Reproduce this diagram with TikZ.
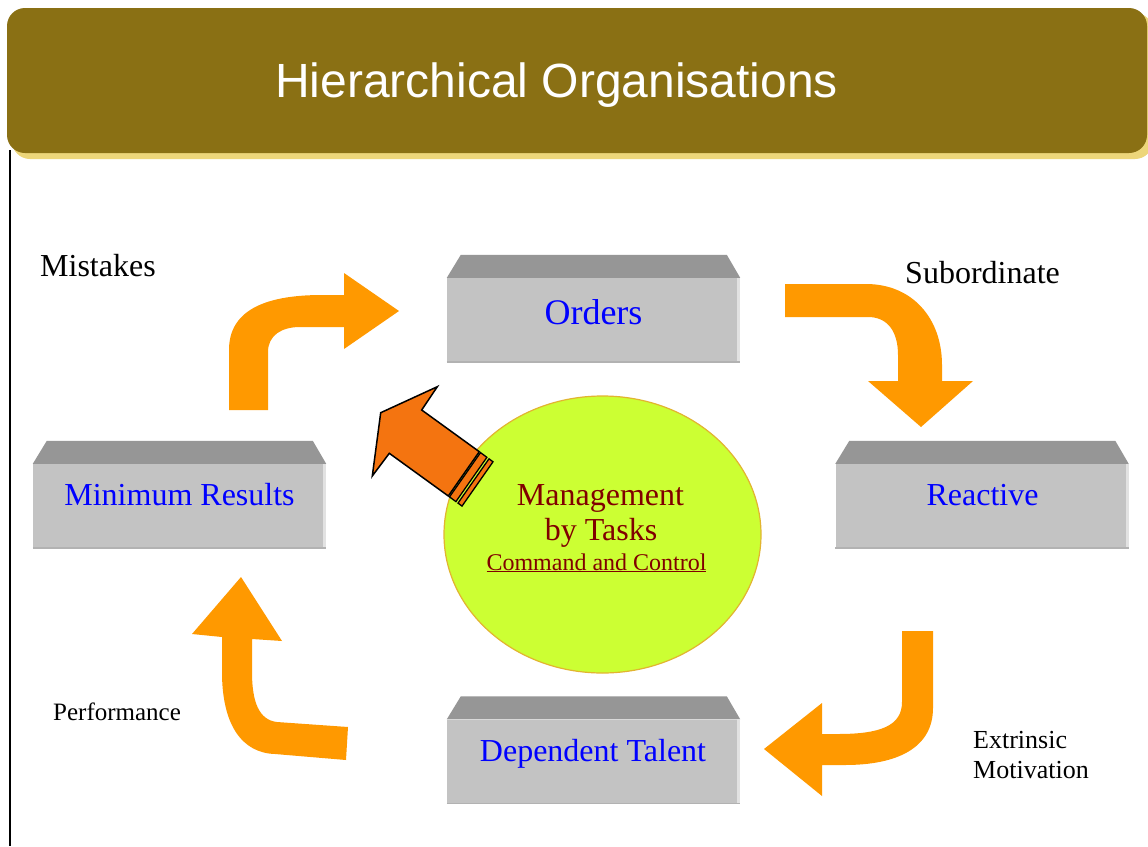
\documentclass[tikz,border=0pt]{standalone}
\usepackage{fontspec}
\setmainfont{Liberation Serif}
\newfontfamily\headfont{Liberation Sans}
\usetikzlibrary{shapes.geometric}

\definecolor{bannerbrown}{RGB}{138,112,20}
\definecolor{bannershadow}{RGB}{237,214,122}
\definecolor{facegray}{RGB}{195,195,195}
\definecolor{topgray}{RGB}{150,150,150}
\definecolor{edgelight}{RGB}{226,226,226}
\definecolor{bottomgray}{RGB}{178,178,178}
\definecolor{bendorange}{RGB}{255,153,0}
\definecolor{pushorange}{RGB}{244,116,16}
\definecolor{hublime}{RGB}{204,255,51}
\definecolor{hubrim}{RGB}{226,180,48}
\definecolor{labelblue}{RGB}{0,0,255}
\definecolor{hubtext}{RGB}{128,0,0}

\tikzset{
  face/.style={fill=facegray, minimum width=293pt, minimum height=84pt, inner sep=0pt},
  boxlabel/.style={anchor=base, inner sep=0pt, text=labelblue, font=\fontsize{32}{38}\selectfont},
  note/.style={anchor=base west, inner sep=0pt, text=black, font=\fontsize{32}{38}\selectfont},
  smallnote/.style={anchor=base west, inner sep=0pt, text=black, font=\fontsize{25}{30}\selectfont},
  cyclearrow/.style={fill=bendorange},
  push/.style={fill=pushorange, draw=black, line width=1.5pt, line join=miter},
  hubline/.style={anchor=base, inner sep=0pt, text=hubtext},
}

% a grey slab: front face node plus a darker top face
\newcommand\drawslab[2]{%
  \node[face] (#1) at (#2) {};
  \fill[topgray] (#1.north west) -- ++(14,-23) -- ++(266,0) -- (#1.north east) -- cycle;
  \fill[edgelight] ([xshift=-3pt]#1.north east) rectangle (#1.south east);
  \draw[bottomgray, line width=1.5pt] (#1.south west) -- (#1.south east);
}

\begin{document}
\begin{tikzpicture}[x=1pt, y=-1pt]
\useasboundingbox (0,0) rectangle (1148,846);
\fill[white] (0,0) rectangle (1148,846);

% left margin rule
\draw[black, line width=1.5pt] (10,150) -- (10,846);

% title banner
\fill[bannershadow, rounded corners=18pt] (12,13) rectangle (1153,159);
\fill[bannerbrown, rounded corners=18pt] (7,8) rectangle (1147,153);
\node[anchor=base, inner sep=0pt, text=white, font=\headfont\fontsize{48}{56}\selectfont] (title) at (556.5,97) {Hierarchical Organisations};

% slabs
\drawslab{orders}{593.5,320}
\drawslab{minres}{179.5,506}
\drawslab{reactive}{982,506}
\drawslab{talent}{593.5,761.5}

% curved block arrows of the cycle
\fill[cyclearrow] (229,410) -- (229,350) .. controls (229,312) and (262,295) .. (322,295) -- (344,295)
  -- (344,273) -- (399,311) -- (344,349) -- (344,327) -- (300,327)
  .. controls (282,327) and (268,335) .. (268,352) -- (268,410) -- cycle;
\fill[cyclearrow] (785,284) -- (866,284) .. controls (912,284) and (942,318) .. (942,365) -- (942,381)
  -- (973,381) -- (921,427) -- (868,381) -- (898,381) -- (898,355)
  .. controls (898,332) and (888,317) .. (868,317) -- (785,317) -- cycle;
\fill[cyclearrow] (902,631) -- (933,631) -- (933,708) .. controls (933,748) and (897,765) .. (845,765)
  -- (822,765) -- (822,796) -- (764,749) -- (822,703) -- (822,734) -- (838,734)
  .. controls (880,734) and (902,726) .. (902,702) -- cycle;
\fill[cyclearrow] (348,727) -- (277,722) .. controls (259,720) and (252,702) .. (252,672) -- (252,639)
  -- (282,641) -- (241,577) -- (192,634) -- (222,637) -- (222,672)
  .. controls (222,725) and (242,753) .. (275,754) -- (346,760) -- cycle;

% central ellipse
\node[ellipse, fill=hublime, draw=hubrim, line width=1.2pt, minimum width=317pt, minimum height=277pt, inner sep=0pt] (hub) at (602.5,534.5) {};

% striped push arrow
\filldraw[push] (448.3,496) -- (389.3,453.3) -- (372.3,476) -- (380.7,412.7) -- (437.3,386.7)
  -- (421.7,410) -- (479.3,451.7) -- cycle;
\filldraw[push, line width=1.3pt] (480.5,452.6) -- (486.9,457.3) -- (455.9,501.6) -- (449.5,496.9) -- cycle;
\filldraw[push, line width=1.3pt] (489,458.8) -- (493,461.8) -- (462,506.1) -- (458,503.1) -- cycle;

% slab labels
\node[boxlabel, font=\fontsize{36}{42}\selectfont] (orderstext) at (593.5,324) {Orders};
\node[boxlabel] (minrestext) at (179.5,505) {Minimum Results};
\node[boxlabel] (reactivetext) at (982.5,505) {Reactive};
\node[boxlabel] (talenttext) at (593,761) {Dependent Talent};

% hub text
\node[hubline, font=\fontsize{32}{38}\selectfont] (hubtop) at (600.5,505) {Management};
\node[hubline, font=\fontsize{32}{38}\selectfont] (hubmid) at (601,540) {by Tasks};
\node[hubline, font=\fontsize{24}{28}\selectfont] (hubsub) at (596.5,570) {\underline{Command and Control}};

% side notes
\node[note] (mistakes) at (40,276) {Mistakes};
\node[note] (subordinate) at (905,283) {Subordinate};
\node[smallnote] (performance) at (53,720) {Performance};
\node[smallnote, font=\fontsize{26}{30}\selectfont] (extrinsic) at (973,748) {Extrinsic};
\node[smallnote, font=\fontsize{26}{30}\selectfont] (motivation) at (973,778) {Motivation};
\end{tikzpicture}
\end{document}
